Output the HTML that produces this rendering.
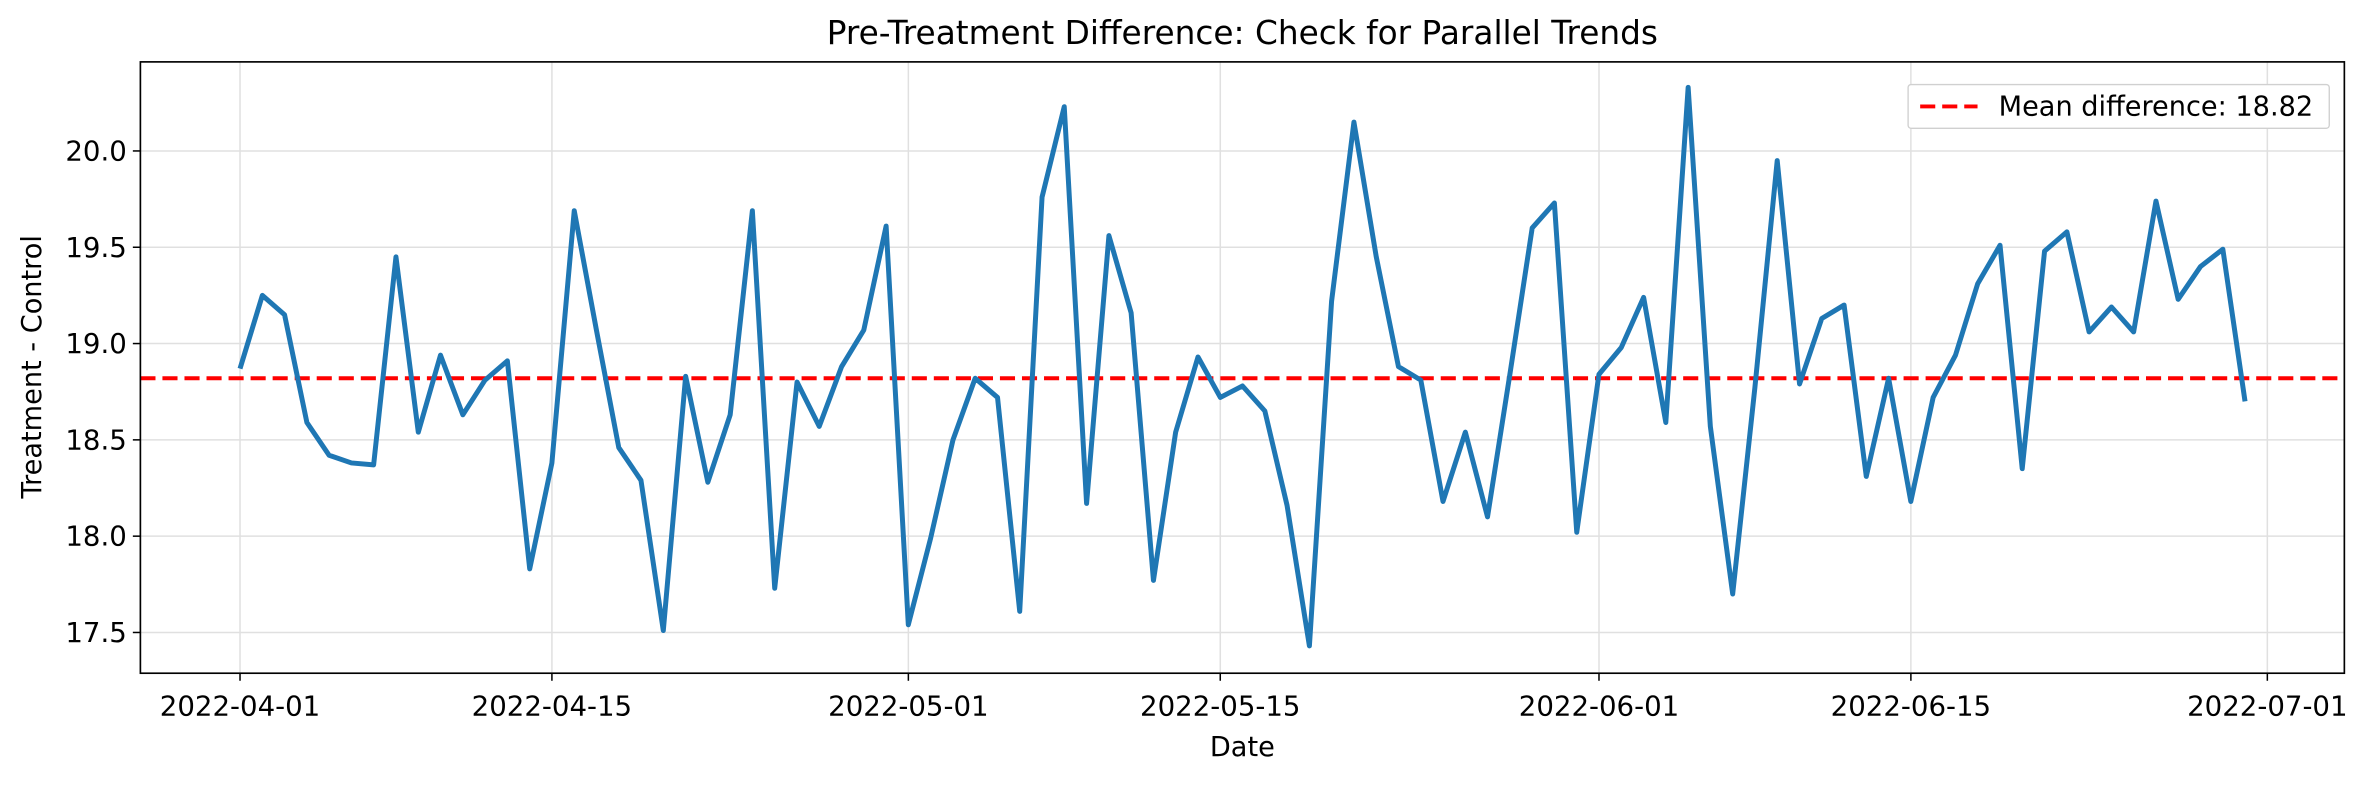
<!DOCTYPE html>
<html><head><meta charset="utf-8"><style>
body{margin:0;background:#fff}
svg text{font-family:"DejaVu Sans","Liberation Sans",sans-serif;fill:#000}
</style></head><body>
<svg id="s" width="2367" height="781" viewBox="0 0 1568 517.4" preserveAspectRatio="none" xmlns="http://www.w3.org/2000/svg">
<rect width="1568" height="518" fill="#fff"/>
<g id="grid" stroke="#e0e0e0" stroke-width="1"></g>
<line x1="93" y1="250.6" x2="1553" y2="250.6" stroke="#ff0000" stroke-width="2.6" stroke-dasharray="10,4.6"/>
<polyline id="ln" fill="none" stroke="#1f77b4" stroke-width="3.3" stroke-linejoin="round" points=""/>
<rect x="93" y="41" width="1460" height="405" fill="none" stroke="#000" stroke-width="1.1"/>
<g id="ticks" stroke="#000" stroke-width="1"></g>
<g id="labels" font-size="18.3"></g>
<text x="823" y="29" font-size="21.7" text-anchor="middle">Pre-Treatment Difference: Check for Parallel Trends</text>
<text x="823" y="501" font-size="18" text-anchor="middle">Date</text>
<text transform="translate(27,243) rotate(-90)" font-size="18" text-anchor="middle">Treatment - Control</text>
<rect x="1264" y="56" width="279" height="29" rx="2" fill="#fff" stroke="#d0d0d0" stroke-width="0.9"/>
<line x1="1272" y1="70.5" x2="1310" y2="70.5" stroke="#ff0000" stroke-width="2.6" stroke-dasharray="10,4.6"/>
<text x="1324" y="76.5" font-size="18">Mean difference: 18.82</text>
</svg>
<script>
var v=[18.87,19.25,19.15,18.59,18.42,18.38,18.37,19.45,18.54,18.94,18.63,18.81,18.91,17.83,18.38,19.69,19.07,18.46,18.29,17.51,18.83,18.28,18.63,19.69,17.73,18.80,18.57,18.88,19.07,19.61,17.54,17.99,18.50,18.82,18.72,17.61,19.76,20.23,18.17,19.56,19.16,17.77,18.54,18.93,18.72,18.78,18.65,18.16,17.43,19.22,20.15,19.45,18.88,18.81,18.18,18.54,18.10,18.84,19.60,19.73,18.02,18.84,18.98,19.24,18.59,20.33,18.57,17.70,18.77,19.95,18.79,19.13,19.20,18.31,18.82,18.18,18.72,18.94,19.31,19.51,18.35,19.48,19.58,19.06,19.19,19.06,19.74,19.23,19.40,19.49,18.70];
function X(i){return 159+i*14.758;}function Y(a){return 100+(20-a)*127.6;}
document.getElementById('ln').setAttribute('points',v.map(function(a,i){return X(i).toFixed(1)+','+Y(a).toFixed(1)}).join(' '));
var ns='http://www.w3.org/2000/svg',g=document.getElementById('grid'),t=document.getElementById('ticks'),L=document.getElementById('labels');
function el(p,n,at,tx){var e=document.createElementNS(ns,n);for(var k in at)e.setAttribute(k,at[k]);if(tx)e.textContent=tx;p.appendChild(e);}
[17.5,18,18.5,19,19.5,20].forEach(function(a){var y=Y(a);el(g,'line',{x1:93,x2:1553,y1:y,y2:y});el(t,'line',{x1:88,x2:93,y1:y,y2:y});el(L,'text',{x:84,y:y+6.3,'text-anchor':'end'},a.toFixed(1));});
[[0,'2022-04-01'],[14,'2022-04-15'],[30,'2022-05-01'],[44,'2022-05-15'],[61,'2022-06-01'],[75,'2022-06-15'],[91,'2022-07-01']].forEach(function(d){var x=X(d[0]);el(g,'line',{x1:x,x2:x,y1:41,y2:446});el(t,'line',{x1:x,x2:x,y1:446,y2:451});el(L,'text',{x:x,y:474,'text-anchor':'middle'},d[1]);});
</script>
</body></html>
